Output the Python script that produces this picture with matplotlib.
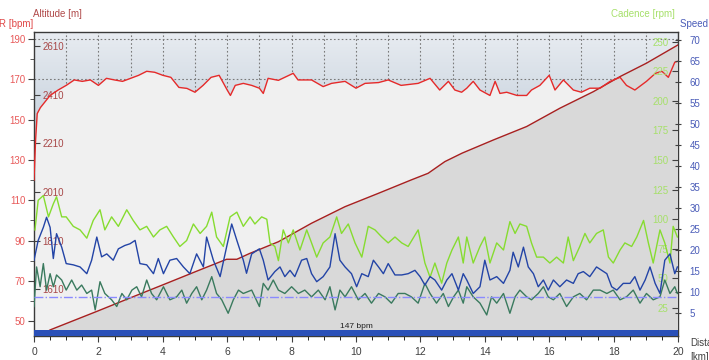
import numpy as np
import matplotlib
matplotlib.use('Agg')
from matplotlib import pyplot as plt
from matplotlib.ticker import MultipleLocator

plt.rcParams['font.family'] = ['Liberation Sans', 'DejaVu Sans']

# heart rate [bpm]
hr_km = [0.0, 0.05, 0.1, 0.2, 0.3, 0.5, 0.75, 1.0, 1.25, 1.5, 1.75, 2.0, 2.25, 2.5, 2.75, 3.0,
         3.25, 3.5, 3.75, 4.0, 4.25, 4.5, 4.75, 5.0, 5.25, 5.5, 5.75, 6.0, 6.1, 6.25, 6.5, 6.76,
         7.0, 7.12, 7.27, 7.59, 8.05, 8.2, 8.62, 8.98, 9.24, 9.66, 10.0, 10.28, 10.7, 11.0, 11.4,
         11.93, 12.3, 12.6, 12.87, 13.07, 13.28, 13.44, 13.64, 13.85, 14.16, 14.32, 14.47, 14.68,
         15.0, 15.3, 15.45, 15.71, 16.0, 16.18, 16.44, 16.75, 17.0, 17.26, 17.58, 17.89, 18.2,
         18.4, 18.66, 19.02, 19.3, 19.5, 19.7, 19.9, 20.0]
hr_bpm = [120, 140, 153, 156, 158, 162, 164.7, 167, 169.7, 169, 169.7, 167, 170.5, 169.7, 169, 170.5,
          172, 174, 173.5, 172, 171, 166, 165.5, 163.6, 167, 171, 172, 164.7, 162, 167, 168, 167,
          165.6, 163, 170.5, 169.5, 173, 169.7, 169.7, 166.4, 168, 169, 165.6, 168, 168.4, 169.7, 167,
          168, 170.5, 164.7, 169, 164.7, 163.6, 165.6, 169, 164.7, 162, 169, 163, 163.6,
          162, 162, 164.7, 167, 172, 164.7, 169.7, 164.7, 163.6, 165.6, 165.6, 169, 171,
          167, 164.7, 169, 173, 174, 171, 178.5, 179]

# altitude [m]
alt_km = [0.0, 0.5, 1.95, 2.98, 4.02, 5.05, 5.98, 6.3, 6.7, 7.59, 8.62, 9.66, 10.7, 11.72, 12.24,
          12.76, 13.3, 14.27, 15.3, 16.33, 17.37, 18.2, 19.02, 20.0]
alt_m = [1400, 1444, 1520, 1575, 1630, 1685, 1734, 1734, 1758, 1806, 1882, 1950, 2005, 2060, 2087,
         2135, 2170, 2224, 2279, 2354, 2422, 2484, 2539, 2614]

# cadence [rpm]
cad_km = [0.03, 0.13, 0.29, 0.45, 0.6, 0.7, 0.86, 1.0, 1.22, 1.43, 1.64, 1.84, 2.05, 2.2, 2.41, 2.62,
          2.88, 3.08, 3.29, 3.5, 3.71, 3.91, 4.12, 4.33, 4.53, 4.74, 4.95, 5.16, 5.36, 5.52, 5.67,
          5.88, 6.09, 6.3, 6.5, 6.71, 6.86, 7.07, 7.23, 7.33, 7.48, 7.59, 7.74, 7.9, 8.05, 8.26,
          8.47, 8.62, 8.78, 8.98, 9.19, 9.4, 9.55, 9.76, 9.97, 10.18, 10.38, 10.59, 10.8, 11.0,
          11.21, 11.42, 11.62, 11.93, 12.14, 12.3, 12.45, 12.66, 12.82, 12.98, 13.18, 13.33, 13.44,
          13.64, 13.85, 14.0, 14.16, 14.37, 14.58, 14.78, 14.94, 15.09, 15.3, 15.45, 15.61, 15.82,
          16.02, 16.23, 16.44, 16.59, 16.75, 16.95, 17.11, 17.26, 17.47, 17.68, 17.84, 17.99, 18.2,
          18.35, 18.56, 18.72, 18.93, 19.08, 19.23, 19.44, 19.59, 19.75, 19.85, 19.98]
cad_rpm = [91, 116, 120, 102, 113, 119, 102, 102, 94, 91, 84, 99, 108, 91, 102, 94,
           108, 99, 91, 94, 85, 91, 94, 85, 77, 82, 96, 88, 94, 106, 85,
           77, 102, 106, 94, 102, 96, 102, 100, 80, 77, 65, 91, 80, 91, 74,
           91, 80, 68, 80, 85, 102, 88, 96, 80, 68, 94, 91, 85, 80,
           85, 80, 77, 91, 63, 51, 63, 46, 63, 74, 85, 63, 85,
           63, 77, 85, 63, 80, 74, 98, 88, 96, 94, 80, 68, 68,
           63, 68, 63, 85, 65, 77, 88, 80, 88, 91, 68, 63, 74,
           80, 77, 85, 99, 80, 63, 91, 80, 63, 94, 85]

# speed [km/h]
spd_km = [0.0, 0.13, 0.29, 0.39, 0.5, 0.6, 0.7, 0.86, 1.0, 1.22, 1.43, 1.64, 1.79, 1.95, 2.1, 2.26,
          2.46, 2.62, 2.82, 2.98, 3.14, 3.29, 3.5, 3.71, 3.86, 4.02, 4.22, 4.43, 4.64, 4.84, 5.05,
          5.26, 5.36, 5.57, 5.78, 5.98, 6.14, 6.3, 6.5, 6.6, 6.76, 7.0, 7.12, 7.27, 7.48, 7.64, 7.79,
          7.95, 8.1, 8.31, 8.47, 8.62, 8.78, 8.98, 9.19, 9.35, 9.5, 9.66, 9.86, 10.02, 10.18, 10.38,
          10.54, 10.7, 10.85, 11.0, 11.21, 11.42, 11.62, 11.83, 11.99, 12.14, 12.3, 12.45, 12.66,
          12.82, 12.98, 13.18, 13.33, 13.44, 13.64, 13.85, 14.0, 14.16, 14.37, 14.58, 14.78, 14.88,
          15.04, 15.2, 15.35, 15.51, 15.66, 15.82, 15.97, 16.13, 16.33, 16.54, 16.75, 16.9, 17.06,
          17.26, 17.47, 17.63, 17.79, 17.94, 18.1, 18.3, 18.51, 18.66, 18.82, 18.98, 19.13, 19.29,
          19.44, 19.59, 19.75, 19.9, 19.98]
spd_kmh = [17.6, 22.3, 25.4, 27.8, 25.4, 18, 23.9, 20.7, 16.8, 16.5, 16, 14.4, 17.6, 23.1, 18.4, 19.1,
           17.6, 20.3, 21.1, 21.5, 22.3, 16.8, 16.5, 14.4, 18, 14.4, 17.6, 18, 16, 14.4, 19.1,
           16, 23.1, 17.6, 13.7, 20.7, 26.2, 22.3, 17.6, 14.5, 19.1, 20.3, 17.6, 12.9, 14.9, 16, 13.7,
           15.2, 13.7, 17.6, 18, 14.4, 12.5, 13.7, 16, 23.9, 17.6, 16, 14.4, 11.3, 14.4, 13.7,
           17.6, 16, 14.4, 16.8, 14.1, 14.1, 14.4, 15.2, 13.7, 11.7, 13.7, 12.9, 10.5,
           12.9, 14.4, 10.5, 14.4, 12.9, 9.7, 11.3, 17.6, 12.9, 13.7, 12.1, 15.2, 19.5,
           16, 20.7, 16, 14.4, 11.3, 12.9, 10.5, 12.9, 11.3, 12.9, 12.1, 14.4, 14.9,
           13.7, 16, 15.2, 14.4, 11.3, 10.5, 12.1, 12.1, 13.7, 10.5, 12.9, 16, 12.1,
           9.7, 17.6, 19.1, 14.4, 16]

# second speed-axis series (dark green)
g2_km = [0.0, 0.08, 0.19, 0.29, 0.39, 0.5, 0.6, 0.7, 0.86, 1.0, 1.17, 1.33, 1.48, 1.64, 1.79, 1.9,
         2.05, 2.2, 2.41, 2.57, 2.73, 2.88, 3.04, 3.19, 3.34, 3.5, 3.65, 3.81, 4.02, 4.22, 4.43,
         4.59, 4.74, 4.9, 5.05, 5.21, 5.36, 5.52, 5.67, 5.83, 6.03, 6.19, 6.35, 6.5, 6.76, 7.0,
         7.12, 7.27, 7.43, 7.59, 7.79, 8.0, 8.21, 8.41, 8.62, 8.83, 9.04, 9.19, 9.35, 9.5, 9.66,
         9.86, 10.07, 10.28, 10.48, 10.7, 10.9, 11.1, 11.31, 11.52, 11.72, 11.93, 12.14, 12.3,
         12.5, 12.71, 12.87, 13.03, 13.18, 13.33, 13.44, 13.64, 13.85, 14.06, 14.21, 14.37, 14.58,
         14.78, 14.94, 15.09, 15.3, 15.45, 15.66, 15.82, 15.97, 16.13, 16.33, 16.54, 16.75, 16.95,
         17.16, 17.37, 17.58, 17.79, 17.99, 18.2, 18.4, 18.61, 18.82, 19.02, 19.23, 19.44, 19.59,
         19.75, 19.9, 19.98]
g2_val = [6.6, 16, 11.3, 16.8, 10.5, 14.4, 11.3, 14.1, 12.9, 10.5, 12.9, 10.5, 11.7, 9.7, 10.5, 5.8,
          12.5, 9.7, 8.2, 6.6, 9.7, 8.2, 10.5, 11.3, 8.9, 12.9, 9.7, 8.2, 11.3, 8.2, 8.9,
          10.5, 7.4, 9.7, 11.3, 8.2, 10.5, 13.7, 9.7, 8.2, 5, 8.2, 10.5, 9.7, 10.5, 6.6,
          12.1, 10.5, 12.9, 10.5, 9.7, 11.3, 9.7, 10.5, 8.9, 10.5, 8.2, 11.3, 5.8, 10.5, 8.9,
          11.3, 8.2, 9.7, 7.4, 9.7, 8.9, 7.4, 9.7, 9.7, 8.9, 7.4, 12.1, 9.7,
          7.4, 9.7, 6.6, 8.9, 10.5, 7.4, 11.3, 8.9, 7.4, 4.6, 8.9, 7.4, 9.7,
          5, 8.9, 10.5, 8.9, 8.2, 9.7, 11.3, 8.9, 8.2, 9.7, 6.6, 8.9, 9.7,
          8.2, 10.5, 10.5, 9.7, 10.5, 8.2, 8.9, 10.5, 7.4, 9.7, 8.2, 8.9, 12.9,
          9.7, 11.3, 9.7]
g2_avg = 8.8
zone_label = '147 bpm'

W, H = 709, 360
fig = plt.figure(figsize=(W / 100, H / 100), dpi=100)
rect = [34 / W, 24 / H, 644 / W, 304 / H]
ax = fig.add_axes(rect)
ax.set_xlim(0, 20)
ax.set_ylim(42.6, 193.5)

# background gradient + grid + HR area
t = np.linspace(0, 1, 256)[:, None]
top = np.array([232, 236, 241]) / 255
bot = np.array([128, 154, 180]) / 255
grad = (top * (1 - t) + bot * t)[:, None, :] * np.ones((1, 2, 1))
ax.imshow(grad, extent=[0, 1, 0, 1], transform=ax.transAxes, aspect='auto', zorder=0)
ax.set_xlim(0, 20)
ax.set_ylim(42.6, 193.5)
ax.xaxis.set_major_locator(MultipleLocator(2))
ax.xaxis.set_minor_locator(MultipleLocator(0.5))
ax.yaxis.set_major_locator(MultipleLocator(20))
ax.yaxis.set_minor_locator(MultipleLocator(10))
ax.set_yticks(range(50, 191, 20))
ax.grid(False)
for k in range(1, 20):
    ax.axvline(k, color='#7a7a7a', ls=(0, (1.5, 2)), lw=0.8, zorder=1)
for v in (170, 190):
    ax.axhline(v, color='#7a7a7a', ls=(0, (1.5, 2)), lw=0.8, zorder=1)
ax.fill_between(hr_km, hr_bpm, 0, color='#f0f0f0', lw=0, zorder=2)
ax.tick_params(axis='y', colors='#404040', labelcolor='#e85a5a', labelsize=7, length=4, pad=2)
ax.tick_params(axis='y', which='minor', length=3, colors='#404040')
ax.tick_params(axis='x', colors='#404040', labelcolor='#404040', labelsize=7.5, length=4, pad=4)
ax.tick_params(axis='x', which='minor', length=3)
for s in ax.spines.values():
    s.set_color('#3a3a3a')
    s.set_linewidth(1)

# altitude
ax_alt = ax.twinx()
ax_alt.set_ylim(1419, 2667)
ax_alt.fill_between(alt_km, alt_m, 0, color='#d9d9d9', lw=0)
ax_alt.plot(alt_km, alt_m, color='#a82020', lw=1)
ax_alt.yaxis.set_ticks_position('left')
ax_alt.set_yticks([1610, 1810, 2010, 2210, 2410, 2610])
ax_alt.tick_params(axis='y', direction='in', length=4, pad=-6, labelsize=7,
                   labelcolor='#a84848', colors='#404040', labelleft=True, labelright=False)
plt.setp(ax_alt.get_yticklabels(), ha='left')
for s in ax_alt.spines.values():
    s.set_visible(False)

# heart rate line on top of the altitude area
ax_hr = ax.twinx()
ax_hr.set_ylim(ax.get_ylim())
ax_hr.plot(hr_km, hr_bpm, color='#e52a2a', lw=1)
ax_hr.set_yticks([])
for s in ax_hr.spines.values():
    s.set_visible(False)

# cadence
ax_cad = ax.twinx()
ax_cad.set_ylim(1.35, 258.2)
ax_cad.plot(cad_km, cad_rpm, color='#86dc30', lw=1)
ax_cad.set_yticks(range(25, 251, 25))
ax_cad.tick_params(axis='y', direction='in', length=4, pad=-7, labelsize=7,
                   labelcolor='#a6e06a', colors='#404040')
plt.setp(ax_cad.get_yticklabels(), ha='right')
for s in ax_cad.spines.values():
    s.set_visible(False)

# speed
ax_spd = ax.twinx()
ax_spd.set_ylim(-0.4, 71.8)
ax_spd.plot(g2_km, g2_val, color='#3a7a5e', lw=1)
ax_spd.plot(spd_km, spd_kmh, color='#2344a6', lw=1)
ax_spd.axhline(g2_avg, color='#8a8aff', lw=1, ls='-.')
ax_spd.set_yticks(range(5, 71, 5))
ax_spd.tick_params(axis='y', direction='inout', length=5, pad=6, labelsize=7,
                   labelcolor='#4a5cb8', colors='#404040')
for s in ax_spd.spines.values():
    s.set_visible(False)

# zone bar
ax_spd.fill_between([0, 20], 0, 0.02, transform=ax_spd.get_xaxis_transform(),
                    color='#2a50b8', lw=0)
ax_spd.text(10, 0.02, zone_label, transform=ax_spd.get_xaxis_transform(),
            ha='center', va='bottom', fontsize=6, color='#202020')
ax_spd.set_xlim(0, 20)

# axis titles
fig.text(33 / W, 1 - 14 / H, 'Altitude [m]', color='#b04a4a', fontsize=7, va='center', ha='left')
fig.text(33 / W, 1 - 24 / H, 'HR [bpm]', color='#e04848', fontsize=7, va='center', ha='right')
fig.text(675 / W, 1 - 14 / H, 'Cadence [rpm]', color='#a6e06a', fontsize=7, va='center', ha='right')
fig.text(680 / W, 1 - 24 / H, 'Speed [km/h]', color='#4a5cb8', fontsize=7, va='center', ha='left')
fig.text(690 / W, 1 - 343 / H, 'Distance', color='#404040', fontsize=7, va='center', ha='left')
fig.text(690 / W, 1 - 357 / H, '[km]', color='#404040', fontsize=7, va='center', ha='left')

fig.savefig('out.png', dpi=100)
